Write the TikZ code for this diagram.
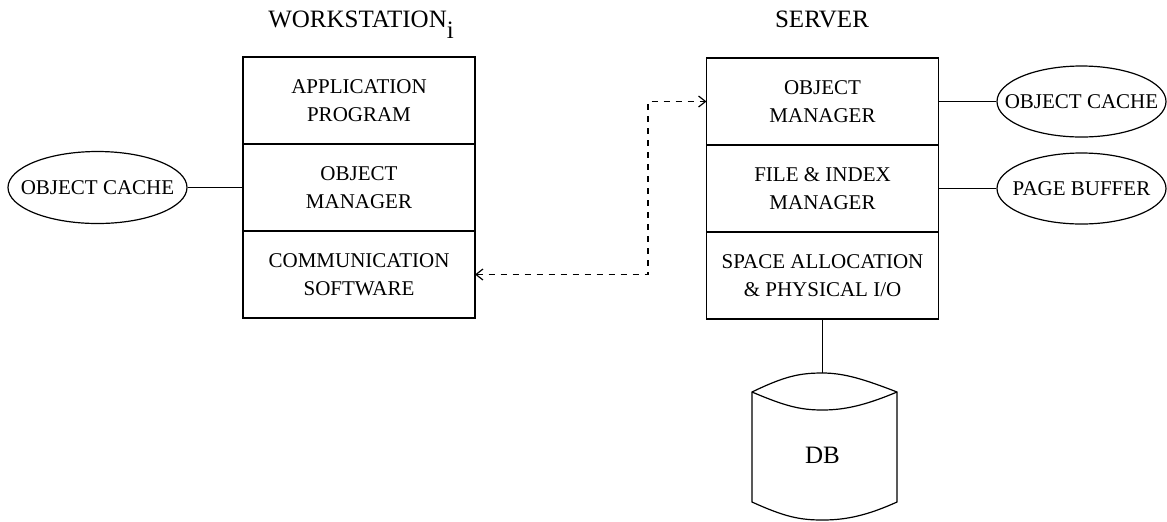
\documentclass[tikz,border=0pt]{standalone}
\usepackage{fontspec}
\setmainfont{Liberation Serif}
\usepackage{tikz}
\usetikzlibrary{shapes.geometric}
\usetikzlibrary{positioning}
\usetikzlibrary{arrows.meta}

\tikzset{
	layer/.style={draw, rectangle, outer sep=0pt, minimum width=116pt, minimum height=43.5pt, align=center, font=\fontsize{10.5}{14}\selectfont},
	cache/.style={draw, ellipse, inner xsep=-10pt, inner ysep=0pt, minimum width=84.5pt, minimum height=35.5pt, font=\fontsize{10.5}{12}\selectfont},
	heading/.style={anchor=base, font=\fontsize{12.5}{15}\selectfont},
}

\begin{document}
\begin{tikzpicture}[x=0.5pt, y=-0.5pt, line width=0.6pt, >={Straight Barb[length=3.5pt, width=5.5pt]}]
		\useasboundingbox (0,0) rectangle (1167,521);
		
		\node[heading] (wstitle) at (361,27) {WORKSTATION\raisebox{-5.5pt}{i}};
		\node[heading] (svtitle) at (822,27) {SERVER};
		
		% workstation
		\node[layer] (wsapp) at (359,100.5) {APPLICATION\\PROGRAM};
		\node[layer, below=0pt of wsapp] (wsobj) {OBJECT\\MANAGER};
		\node[layer, below=0pt of wsobj] (wscomm) {COMMUNICATION\\SOFTWARE};
		\node[cache, minimum width=89.5pt, minimum height=36pt] (wscache) at (97.5,187.5) {OBJECT CACHE};
		\draw (wscache) -- (wsobj);
		
		% server
		\node[layer] (svobj) at (822.5,101.5) {OBJECT\\MANAGER};
		\node[layer, below=0pt of svobj] (svfile) {FILE \& INDEX\\MANAGER};
		\node[layer, below=0pt of svfile] (svspace) {SPACE ALLOCATION\\\& PHYSICAL I/O};
		\node[cache] (svcache) at (1081.5,101.5) {OBJECT CACHE};
		\node[cache] (svbuf) at (1081.5,188.5) {PAGE BUFFER};
		\draw (svobj) -- (svcache);
		\draw (svfile) -- (svbuf);
		
		\coordinate (turn) at (648,0);
		\draw [dashed, <->] (wscomm.east) -- (wscomm.east -| turn) |- (svobj.west);
		
		% database
		\draw (752,392) .. controls (785,376) and (800,373) .. (822.5,373) .. controls (845,373) and (866,380) .. (897,392)
			-- (897,502) .. controls (866,516) and (845,520) .. (822.5,520) .. controls (800,520) and (785,517) .. (752,502) -- cycle;
		\draw (752,392) .. controls (785,406) and (800,410) .. (822.5,410) .. controls (845,410) and (866,405) .. (897,392);
		\node[font=\fontsize{12.5}{15}\selectfont] (db) at (822.5,455) {DB};
		\coordinate (dbtop) at (822.5,373);
		\draw (svspace.south) -- (dbtop);
	\end{tikzpicture}
\end{document}
